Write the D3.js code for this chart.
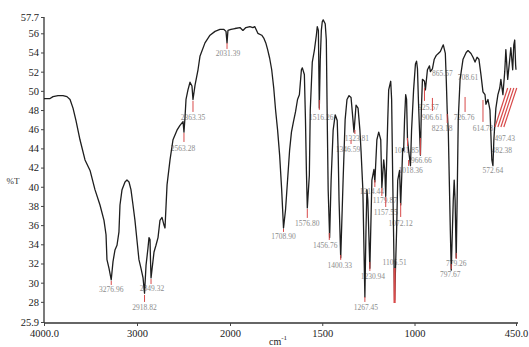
<!DOCTYPE html>
<html><head><meta charset="utf-8">
<script src="https://cdn.jsdelivr.net/npm/d3@7"></script>
<style>html,body{margin:0;padding:0;background:#fff;overflow:hidden}svg{display:block}</style>
</head><body>
<svg id="c" width="529" height="347"></svg>
<script>
// ---- data ----
const wavenumber = [4000,3935,3903,3849,3796,3753,3720,3688,3656,3613,3559,3505,3452,3398,3355,3333,3323,3301,3277,3258,3237,3215,3194,3183,3161,3129,3108,3086,3065,3043,3022,3000,2979,2957,2935,2919,2903,2882,2871,2860,2855,2849,2817,2796,2774,2753,2731,2710,2699,2677,2645,2613,2570,2538,2505,2495,2484,2473,2452,2430,2409,2398,2376,2344,2323,2269,2215,2161,2108,2065,2043,2032,2022,1995,1973,1946,1930,1914,1892,1876,1866,1849,1828,1817,1806,1796,1785,1774,1763,1753,1742,1731,1720,1710,1699,1688,1677,1667,1656,1645,1634,1624,1613,1608,1597,1591,1586,1581,1570,1565,1554,1543,1532,1527,1521,1516,1511,1505,1500,1495,1484,1478,1473,1468,1460,1452,1441,1430,1419,1414,1409,1400,1387,1376,1366,1355,1344,1339,1328,1317,1306,1296,1290,1280,1269,1263,1258,1253,1242,1231,1220,1215,1204,1194,1183,1177,1167,1161,1156,1145,1140,1129,1124,1118,1108,1097,1091,1081,1075,1070,1064,1059,1054,1048,1043,1038,1032,1022,1016,1005,995,989,984,979,973,968,963,957,946,941,930,919,914,903,893,882,871,860,849,844,833,828,823,817,806,801,790,785,780,774,769,763,753,737,720,710,694,683,672,661,651,640,629,618,613,602,591,581,575,570,559,548,538,532,521,511,505,495,484,478,468,462,457,452,450];
const transmittance = [49.2,49.2,49.4,49.5,49.5,49.4,49.1,48.2,46.9,44.9,42.8,41.7,39.7,38.1,36.5,35.0,32.4,31.5,30.3,32.2,33.4,33.9,35.3,38.1,39.7,40.5,40.7,40.5,39.7,38.1,36.5,34.4,32.4,31.5,30.5,28.9,31.8,33.6,34.7,34.5,32.4,30.5,33.2,33.9,34.7,36.5,36.8,36.0,35.7,40.2,42.8,44.9,45.9,46.4,46.8,45.7,47.2,49.1,50.1,50.9,50.5,49.1,50.6,52.2,53.6,55.0,55.8,56.2,56.4,56.4,56.2,55.0,56.3,56.4,56.5,56.6,56.3,56.6,56.7,56.6,56.7,56.0,55.8,55.5,55.0,54.3,53.4,52.2,50.3,48.0,45.9,43.3,39.7,35.7,37.6,40.7,43.8,45.7,46.8,47.8,49.1,49.6,52.2,52.4,51.7,47.0,41.7,37.8,41.2,48.0,53.0,54.2,55.8,56.7,56.3,48.2,53.2,56.3,57.2,57.4,57.0,55.3,47.0,39.7,34.7,40.7,45.9,47.5,46.9,43.8,38.6,32.6,40.7,47.0,49.1,49.5,49.3,48.2,45.7,48.5,48.2,45.9,43.8,39.7,28.5,35.5,39.7,38.6,31.5,40.7,41.8,40.5,44.9,45.7,44.9,39.9,42.8,41.7,39.0,47.0,50.1,51.0,49.1,40.7,28.2,35.5,40.7,41.7,38.1,40.7,44.0,43.8,47.0,49.6,49.1,44.9,43.8,42.2,45.9,50.1,52.8,53.1,52.3,49.1,45.9,43.3,48.0,51.2,51.0,50.1,52.2,52.6,52.0,52.3,53.3,53.7,53.9,54.1,54.6,54.8,53.9,51.2,48.0,45.9,35.5,31.3,38.6,40.7,38.6,32.6,38.6,47.0,51.2,53.3,54.0,54.2,53.9,53.5,53.0,53.5,53.3,51.7,49.9,49.6,48.6,49.1,48.0,42.8,42.2,44.9,48.2,49.6,50.3,51.2,49.6,52.0,54.3,51.2,53.3,54.5,52.2,54.8,55.3,52.7,52.2];

const xTickValues = [4000,3000,2000,1500,1000,450];
const xTickLabels = ["4000.0","3000","2000","1500","1000","450.0"];
const yTickValues = [57.7,56,54,52,50,48,46,44,42,40,38,36,34,32,30,28,25.9];
const yTickLabels = ["57.7","56","54","52","50","48","46","44","42","40","38","36","34","32","30","28","25.9"];

const peakText   = ["3276.96","2918.82","2849.32","2363.35","2563.28","2031.39","1708.90","1576.80","1516.26","1456.76","1400.33","1346.59","1323.81","1267.45","1230.94","1214.44","1179.87","1157.55","1106.51","1072.12","1041.85","1018.36","966.66","925.57","906.61","865.57","823.18","797.67","779.26","708.61","726.76","614.78","572.64","497.43","482.38"];
const peakWn     = [3277,2919,2849,2398,2495,2032,1710,1581,1516,1462,1400,1344,1323,1269,1242,1215,1177,1156,1108,1075,1038,1032,968,946,903,849,823,801,774,710,726,629,575,511,527];
const peakTopT   = [30.18,28.72,30.38,48.95,45.61,54.99,35.60,37.68,49.05,35.18,32.89,44.88,45.92,28.51,32.16,40.71,39.87,38.93,31.53,38.31,45.09,42.79,45.09,50.30,49.26,52.39,47.59,31.95,33.10,51.97,49.36,49.05,42.27,45.61,44.36];
const peakBotT   = [29.76,27.99,29.86,47.80,44.67,54.37,35.29,36.75,48.01,34.45,32.37,44.46,45.50,27.99,31.22,39.98,39.04,37.89,27.88,36.85,44.25,42.17,43.31,48.95,47.90,52.39,46.65,31.43,32.47,51.97,47.80,46.76,42.27,45.61,44.36];

// leader lines to the low-wavenumber peaks
const leaderStartWn = [564,548,532,516];
const leaderEndWn   = [495,478,462,446];
const leaderStartT  = [46.23,46.23,46.23,46.23];
const leaderEndT    = [50.30,50.30,50.30,50.30];

// ---- layout (pixel offsets, not data) ----
const labelDx = [0,0,1,0,-1,1,0,0,2,-4,-1,-3,2,1,3,-3,3,0,0,0,-1,2,1,4,0,0,-5,-1,0,0,-1,0,0,0,0];
const labelDy = [7,8,7,8,9,7,7,8,10,8,8,8,7,8,8,7,7,8,-38,9,7,7,8,9,9,8,8,8,7,8,8,9,8,8,8];

const svg = d3.select("#c");
const x = d3.scaleLinear().domain([4000,2000,450]).range([44,230,516]);
const y = d3.scaleLinear().domain([25.9,57.7]).range([322,17]);

// axes
const yAxis = d3.axisLeft(y).tickValues(yTickValues).tickSize(3)
  .tickFormat((d,i)=>yTickLabels[i]);
const gy = svg.append("g").attr("transform","translate(44,0)").call(yAxis);
const xAxis = d3.axisBottom(x).tickValues(xTickValues).tickSize(3)
  .tickFormat((d,i)=>xTickLabels[i]);
const gx = svg.append("g").attr("transform","translate(0,323)").call(xAxis);
[gx,gy].forEach(g=>{
  g.select(".domain").attr("stroke","#333").attr("stroke-width",1.3);
  g.selectAll(".tick line").attr("stroke","#444");
  g.selectAll(".tick text").attr("fill","#222")
   .style("font-family","'Liberation Serif', serif").style("font-size","10.5px");
});
gy.select(".domain").attr("d","M0,17V323");
gx.select(".domain").attr("d","M44,0H518");
gy.selectAll(".tick text").attr("x",-5);
gx.selectAll(".tick text").attr("y",7);

// axis titles
svg.append("text").attr("x",13).attr("y",184).attr("text-anchor","middle")
  .style("font-family","'Liberation Serif', serif").style("font-size","9px").attr("fill","#333").text("%T");
const xt = svg.append("text").attr("x",278).attr("y",345).attr("text-anchor","middle")
  .style("font-family","'Liberation Serif', serif").attr("fill","#222");
xt.append("tspan").style("font-size","10px").text("cm");
xt.append("tspan").style("font-size","7px").attr("dy",-5).text("-1");

// peak label texts (behind curve)
const labels = svg.append("g");
peakText.forEach((t,i)=>{
  labels.append("text")
    .attr("x", x(peakWn[i]) + labelDx[i])
    .attr("y", y(peakBotT[i]) + labelDy[i])
    .attr("text-anchor","middle")
    .style("font-family","'Liberation Serif', serif").style("font-size","7.5px")
    .attr("fill","#8c8c8c").text(t);
});

// spectrum
const pts = wavenumber.map((w,i)=>[w,transmittance[i]]);
svg.append("path").datum(pts)
  .attr("fill","none").attr("stroke","#1e1e1e").attr("stroke-width",1.3)
  .attr("stroke-linejoin","round")
  .attr("d", d3.line().x(d=>x(d[0])).y(d=>y(d[1])));

// red peak marker lines
const marks = svg.append("g").attr("stroke","#d84a4a");
peakText.forEach((t,i)=>{
  if (peakTopT[i] === peakBotT[i]) return;
  marks.append("line")
    .attr("x1", x(peakWn[i])).attr("x2", x(peakWn[i]))
    .attr("y1", y(peakTopT[i])).attr("y2", y(peakBotT[i]))
    .attr("stroke-width", labelDy[i] < 0 ? 2.2 : 1);
});
leaderStartWn.forEach((w,i)=>{
  marks.append("line")
    .attr("x1", x(w)).attr("y1", y(leaderStartT[i]))
    .attr("x2", x(leaderEndWn[i])).attr("y2", y(leaderEndT[i]))
    .attr("stroke-width",1.2);
});
</script>
</body></html>
